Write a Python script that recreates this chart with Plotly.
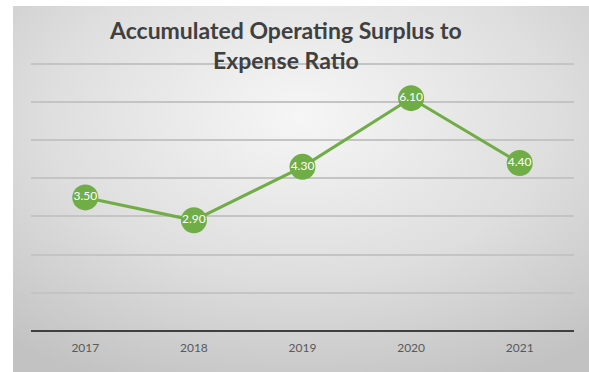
import base64
import plotly.graph_objects as go

# Data
years = ["2017", "2018", "2019", "2020", "2021"]
ratio = [3.50, 2.90, 4.30, 6.10, 4.40]
y_ticks = [0, 1, 2, 3, 4, 5, 6, 7]

W, H = 589, 372
# plot area in pixels (value axis runs slightly past 7 so its top gridline shows)
L, R, T, B = 31, 15, 60, 41
pw, ph = W - L - R, H - T - B

GREEN = "#70AD47"

# radial grey backdrop for the chart panel
svg = """<svg xmlns='http://www.w3.org/2000/svg' width='576' height='366' viewBox='0 0 576 366' preserveAspectRatio='none'>
<defs><radialGradient id='g' cx='50%' cy='30%' r='80%' fx='50%' fy='30%'>
<stop offset='0' stop-color='#f6f6f6'/><stop offset='0.55' stop-color='#dedede'/><stop offset='1' stop-color='#c2c2c2'/>
</radialGradient></defs>
<rect x='0' y='0' width='576' height='366' fill='url(#g)'/>
</svg>"""
bg_uri = "data:image/svg+xml;base64," + base64.b64encode(svg.encode()).decode()

fig = go.Figure()
fig.add_trace(go.Scatter(
    x=years, y=ratio,
    mode="lines+markers+text",
    line=dict(color=GREEN, width=3),
    marker=dict(color=GREEN, size=26, line=dict(width=0)),
    text=[f"{v:.2f}" for v in ratio],
    textposition="middle center",
    textfont=dict(color="white", size=12, family="Lato"),
    cliponaxis=False,
    hoverinfo="skip",
    showlegend=False,
))

px_left, px_top = 13, 6
fig.add_layout_image(dict(
    source=bg_uri, xref="paper", yref="paper",
    x=(px_left - L) / pw, y=(H - B - px_top) / ph,
    sizex=(W - px_left) / pw, sizey=(H - px_top) / ph,
    xanchor="left", yanchor="top", sizing="stretch", layer="below",
))

# two-line chart heading
fig.add_annotation(
    text="<b>Accumulated Operating Surplus to<br>Expense Ratio</b>",
    xref="paper", yref="paper",
    x=(285 - L) / pw, y=(H - B - 45) / ph,
    xanchor="center", yanchor="middle",
    showarrow=False, align="center",
    font=dict(family="Lato", size=23, color="#404040"),
)

fig.update_layout(
    width=W, height=H,
    margin=dict(l=L, r=R, t=T, b=B),
    paper_bgcolor="white",
    plot_bgcolor="rgba(0,0,0,0)",
    xaxis=dict(
        type="category", range=[-0.5, 4.5],
        showgrid=False, showline=False, zeroline=False,
        ticks="", tickfont=dict(family="Lato", size=12, color="#595959"),
        ticklabelstandoff=8,
    ),
    yaxis=dict(
        range=[0, 7.1], tickvals=y_ticks, showticklabels=False,
        showgrid=True, gridcolor="#c4c4c4", gridwidth=2,
        zeroline=True, zerolinecolor="#404040", zerolinewidth=2,
        showline=False,
    ),
)

fig.write_html("out.html")
